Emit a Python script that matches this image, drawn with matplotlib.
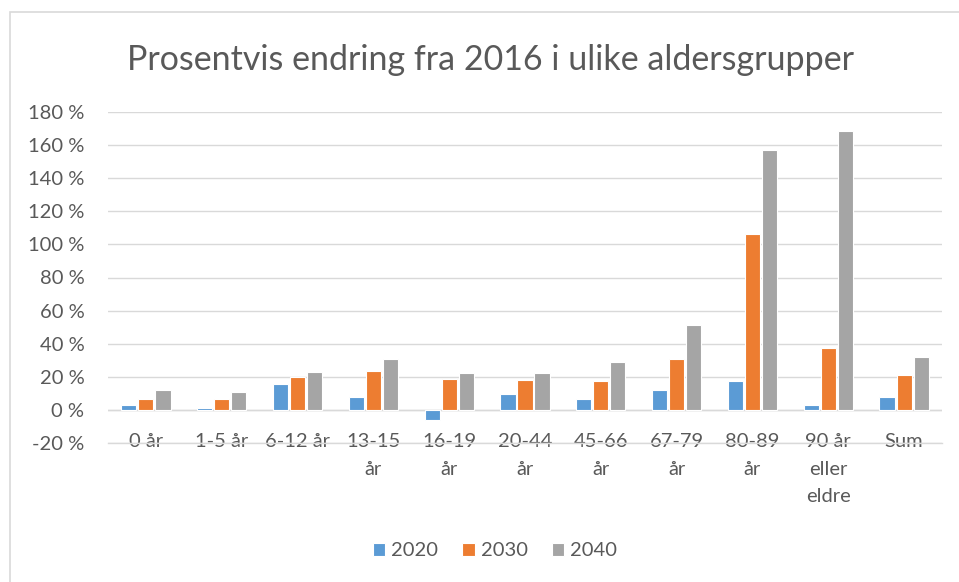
import numpy as np
import matplotlib
matplotlib.use('Agg')
import matplotlib.pyplot as plt
from matplotlib.patches import Rectangle
from matplotlib.ticker import FuncFormatter

plt.rcParams['font.family'] = ['Lato', 'DejaVu Sans']

categories = ['0 år', '1-5 år', '6-12 år', '13-15\når', '16-19\når', '20-44\når',
              '45-66\når', '67-79\når', '80-89\når', '90 år\neller\neldre', 'Sum']
years = ['2020', '2030', '2040']
v2020 = [3.0, 1.0, 15.8, 8.0, -6.0, 9.7, 6.5, 12.0, 17.4, 3.2, 8.0]
v2030 = [6.5, 6.5, 19.8, 23.6, 18.8, 18.2, 17.6, 30.7, 106.3, 37.6, 21.2]
v2040 = [12.0, 11.0, 22.8, 30.7, 22.0, 22.0, 29.0, 51.0, 156.8, 168.3, 32.0]
colors = ['#5B9BD5', '#ED7D31', '#A5A5A5']
text_color = '#595959'

fig = plt.figure(figsize=(9.59, 5.82), dpi=100)
ax = fig.add_axes([108 / 959, 1 - 443 / 582, 834 / 959, 331 / 582])

x = np.arange(len(categories))
for i, (vals, c, lab) in enumerate(zip([v2020, v2030, v2040], colors, years)):
    ax.bar(x + (i - 1) * 0.225, vals, width=0.2, color=c, edgecolor='white',
           linewidth=0.8, label=lab, zorder=3)

ax.set_xlim(-0.5, len(categories) - 0.5)
ax.set_ylim(-20, 180)
ax.set_yticks(np.arange(-20, 181, 20))
ax.yaxis.set_major_formatter(FuncFormatter(lambda v, p: f'{v:.0f} %'))
ax.yaxis.grid(True, color='#D9D9D9', linewidth=1.0, zorder=0)
ax.set_axisbelow(True)
for s in ax.spines.values():
    s.set_visible(False)
ax.spines['bottom'].set_visible(True)
ax.spines['bottom'].set_color('#D9D9D9')
ax.spines['bottom'].set_linewidth(1.0)
ax.axhline(0, color='#D9D9D9', linewidth=1.0, zorder=1)
ax.tick_params(axis='y', length=0, pad=17, labelsize=14.5, labelcolor=text_color)
ax.set_xticks(x)
ax.set_xticklabels(categories, linespacing=1.75)
ax.tick_params(axis='x', length=0, pad=-7, labelsize=14.5, labelcolor=text_color)

fig.text(490 / 959, 1 - 60 / 582, 'Prosentvis endring fra 2016 i ulike aldersgrupper',
         ha='center', va='center', fontsize=24.5, color=text_color)

leg = fig.legend(loc='center', bbox_to_anchor=(495 / 959, 1 - 551 / 582), ncol=3,
                 frameon=False, fontsize=14.5, handlelength=0.6, handleheight=0.6,
                 handletextpad=0.3, columnspacing=1.2, labelcolor=text_color)

fig.patches.append(Rectangle((10 / 959, -0.1), 1.2, 1.1 - 12 / 582, transform=fig.transFigure,
                             fill=False, edgecolor='#D9D9D9', linewidth=1.2))

fig.savefig('out.png', dpi=100)
